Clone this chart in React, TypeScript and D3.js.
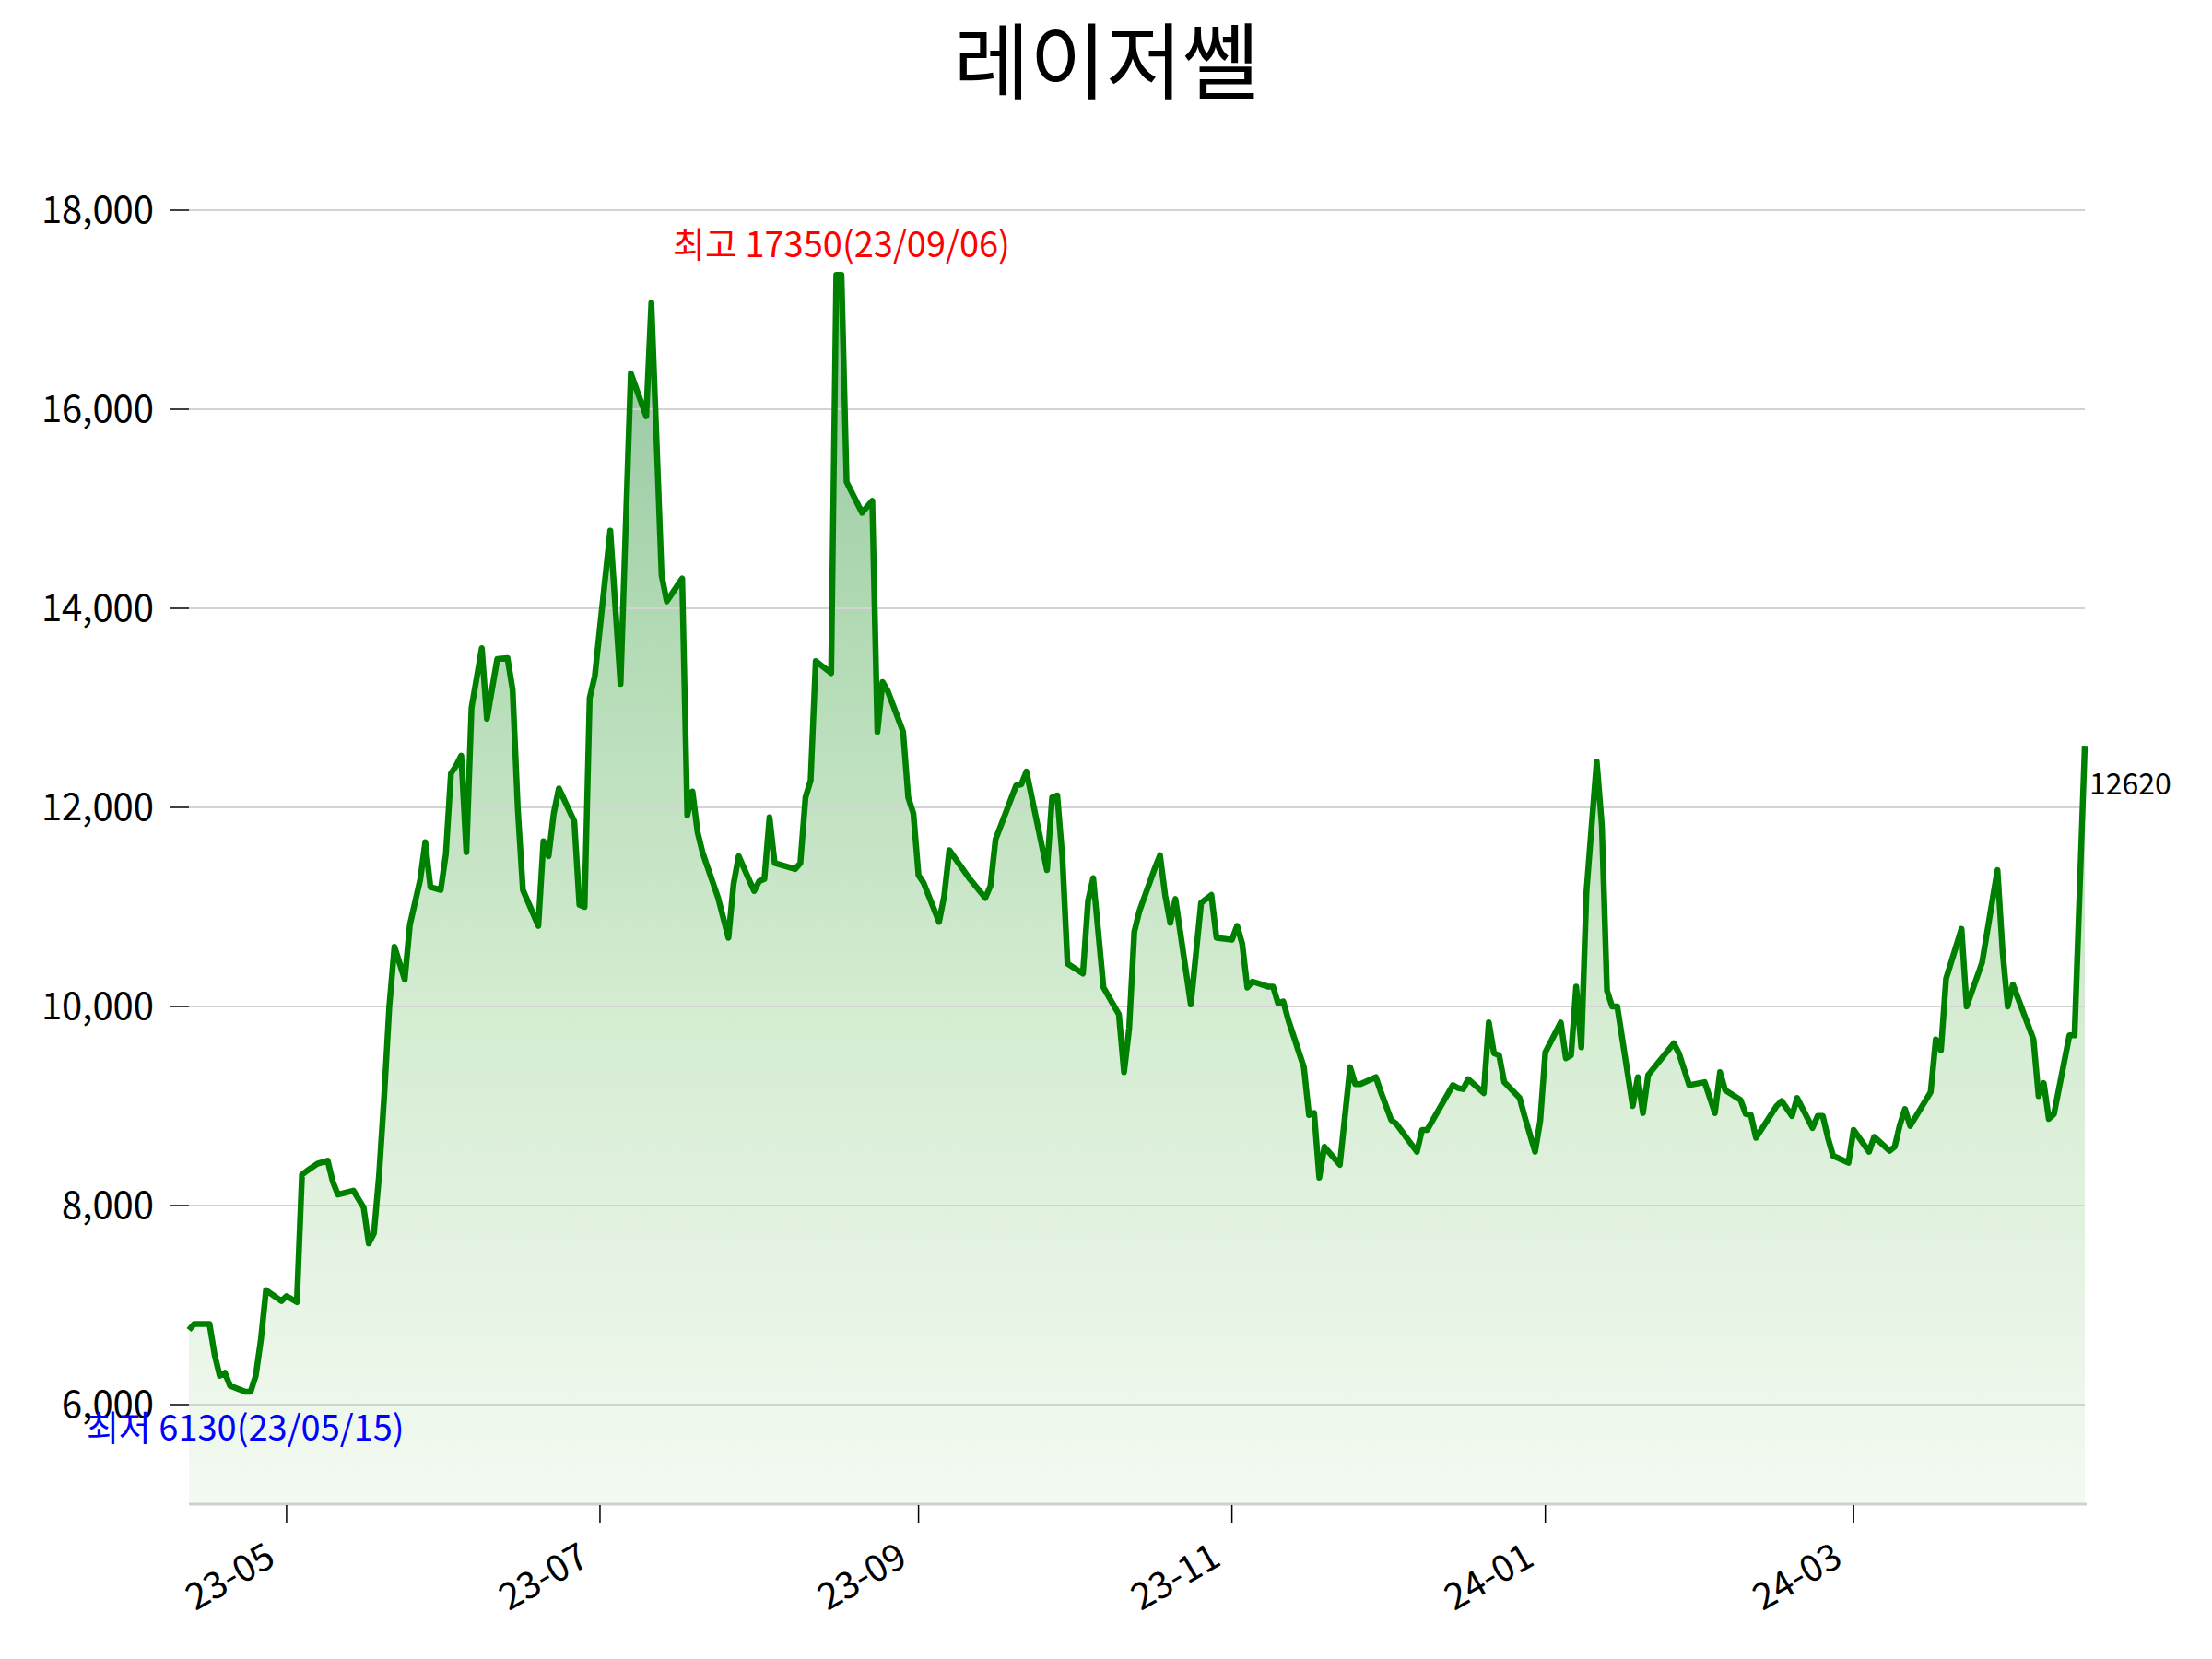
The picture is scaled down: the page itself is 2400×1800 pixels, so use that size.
import React from "react";
import * as d3 from "d3";

const TITLE = "레이저쎌";
const HIGH_LABEL = "최고 17350(23/09/06)";
const LOW_LABEL = "최저 6130(23/05/15)";

const dates: string[] = [
  "2023-04-12","2023-04-13","2023-04-16","2023-04-17","2023-04-18","2023-04-19","2023-04-20","2023-04-23","2023-04-24","2023-04-25","2023-04-26","2023-04-27","2023-04-30",
  "2023-05-01","2023-05-02","2023-05-03","2023-05-04","2023-05-05","2023-05-07","2023-05-09","2023-05-10","2023-05-11","2023-05-14","2023-05-16","2023-05-17","2023-05-18","2023-05-19","2023-05-20","2023-05-21","2023-05-22","2023-05-24","2023-05-25","2023-05-27","2023-05-28","2023-05-29","2023-05-31",
  "2023-06-01","2023-06-02","2023-06-03","2023-06-04","2023-06-05","2023-06-06","2023-06-08","2023-06-09","2023-06-11","2023-06-13","2023-06-14","2023-06-15","2023-06-16","2023-06-19","2023-06-20","2023-06-21","2023-06-22","2023-06-23","2023-06-26","2023-06-27","2023-06-28","2023-06-29","2023-06-30",
  "2023-07-03","2023-07-05","2023-07-07","2023-07-10","2023-07-11","2023-07-13","2023-07-14","2023-07-17","2023-07-18","2023-07-19","2023-07-20","2023-07-21","2023-07-24","2023-07-26","2023-07-27","2023-07-28","2023-07-31",
  "2023-08-01","2023-08-02","2023-08-03","2023-08-04","2023-08-08","2023-08-09","2023-08-10","2023-08-11","2023-08-12","2023-08-15","2023-08-16","2023-08-17","2023-08-18","2023-08-21","2023-08-23","2023-08-24","2023-08-25","2023-08-26","2023-08-29","2023-08-30","2023-08-31",
  "2023-09-01","2023-09-02","2023-09-05","2023-09-06","2023-09-07","2023-09-11","2023-09-14","2023-09-15","2023-09-16","2023-09-20","2023-09-21","2023-09-22","2023-09-26","2023-09-27","2023-09-28","2023-09-29","2023-09-30",
  "2023-10-03","2023-10-04","2023-10-05","2023-10-07","2023-10-10","2023-10-11","2023-10-12","2023-10-13","2023-10-14","2023-10-17","2023-10-18","2023-10-19","2023-10-20","2023-10-21","2023-10-24","2023-10-26","2023-10-28","2023-10-29",
  "2023-11-01","2023-11-02","2023-11-03","2023-11-04","2023-11-05","2023-11-08","2023-11-09","2023-11-10","2023-11-11","2023-11-12","2023-11-15","2023-11-16","2023-11-17","2023-11-18","2023-11-19","2023-11-22","2023-11-24","2023-11-25","2023-11-26","2023-11-29","2023-11-30",
  "2023-12-02","2023-12-03","2023-12-07","2023-12-08","2023-12-09","2023-12-14","2023-12-15","2023-12-16","2023-12-17","2023-12-20","2023-12-21","2023-12-22","2023-12-23","2023-12-24","2023-12-27","2023-12-28","2023-12-30","2023-12-31",
  "2024-01-01","2024-01-04","2024-01-05","2024-01-06","2024-01-07","2024-01-08","2024-01-09","2024-01-11","2024-01-12","2024-01-13","2024-01-14","2024-01-15","2024-01-18","2024-01-19","2024-01-20","2024-01-21","2024-01-26","2024-01-27","2024-01-29",
  "2024-02-01","2024-02-03","2024-02-04","2024-02-05","2024-02-08","2024-02-09","2024-02-10","2024-02-11","2024-02-15","2024-02-16","2024-02-18","2024-02-19","2024-02-22","2024-02-23","2024-02-24","2024-02-25","2024-02-26","2024-02-29",
  "2024-03-01","2024-03-04","2024-03-05","2024-03-08","2024-03-09","2024-03-10","2024-03-11","2024-03-12","2024-03-16","2024-03-17","2024-03-18","2024-03-19","2024-03-22","2024-03-23","2024-03-26","2024-03-29","2024-03-30","2024-03-31",
  "2024-04-01","2024-04-05","2024-04-06","2024-04-07","2024-04-08","2024-04-09","2024-04-12","2024-04-13","2024-04-15",
];

const prices: number[] = [
  6750,6810,6810,6500,6290,6320,6190,6130,6130,6290,6650,7150,7040,
  7090,7060,7030,8310,8350,8420,8450,8240,8110,8150,7980,7620,7720,8300,9100,10000,10600,10270,10820,11270,11650,11200,11170,
  11530,12340,12420,12520,11550,13000,13600,12890,13490,13500,13180,11990,11170,10810,11660,11510,11940,12190,11860,11020,11000,13100,13320,
  14780,13240,16360,15930,17070,14330,14070,14300,11920,12160,11750,11540,11090,10690,11230,11510,11160,
  11260,11280,11900,11440,11380,11440,12100,12270,13470,13350,17350,17350,15270,14960,15080,12760,13260,13170,12760,12100,11940,
  11320,11240,10850,11110,11570,11280,11090,11210,11680,12220,12230,12360,11370,12100,12120,11500,10430,
  10330,11060,11290,10190,9920,9340,9780,10750,10960,11390,11520,11120,10840,11080,10020,11040,11120,10690,
  10670,10810,10630,10190,10250,10200,10200,10030,10050,9860,9390,8910,8930,8280,8590,8410,9390,9220,9220,9290,9140,
  8860,8820,8540,8760,8760,9210,9180,9170,9270,9130,9840,9530,9510,9240,9080,8890,8540,8850,
  9540,9840,9480,9510,10200,9590,11150,12460,11820,10160,10000,10000,9000,9290,8930,9310,9630,9530,9210,
  9240,8930,9340,9160,9060,8920,8910,8680,9000,9050,8900,9080,8780,8900,8900,8680,8500,8430,
  8760,8540,8690,8550,8590,8810,8970,8800,9140,9670,9560,10280,10780,10000,10440,11370,10550,10000,
  10220,9670,9100,9230,8870,8920,9710,9710,12620,
];

const yTicks: number[] = [6000, 8000, 10000, 12000, 14000, 16000, 18000];
const xTickDates: string[] = ["2023-05-01", "2023-07-01", "2023-09-01", "2023-11-01", "2024-01-01", "2024-03-01"];
const xDomain: string[] = ["2023-04-12", "2024-04-15"];
const yDomain: number[] = [5000, 18000];

const W = 2400;
const H = 1800;
const LEFT = 205;
const RIGHT = 2262;
const TOP = 228;
const BOTTOM = 1632;
const FONT = "'Noto Sans CJK KR', 'Noto Sans', sans-serif";

export default function App() {
  const parse = d3.timeParse("%Y-%m-%d");
  const data = dates.map((d, i) => ({ date: parse(d) as Date, value: prices[i] }));
  const x = d3
    .scaleTime()
    .domain(xDomain.map((d) => parse(d) as Date))
    .range([LEFT, RIGHT]);
  const y = d3.scaleLinear().domain(yDomain).range([BOTTOM, TOP]);

  const line = d3
    .line<{ date: Date; value: number }>()
    .x((d) => x(d.date))
    .y((d) => y(d.value));
  const area = d3
    .area<{ date: Date; value: number }>()
    .x((d) => x(d.date))
    .y0(BOTTOM)
    .y1((d) => y(d.value));

  const maxV = d3.max(prices) as number;
  const minV = d3.min(prices) as number;
  let maxIdx = 0;
  prices.forEach((v, i) => {
    if (v === maxV) maxIdx = i;
  });
  const minIdx = prices.indexOf(minV);
  const last = data[data.length - 1];
  const fmtY = d3.format(",");
  const fmtX = d3.timeFormat("%y-%m");

  return (
    <svg
      width={W}
      height={H}
      viewBox={`0 0 ${W} ${H}`}
      style={{ position: "absolute", left: 0, top: 0, display: "block", background: "#fff" }}
      fontFamily={FONT}
    >
      <defs>
        <linearGradient id="fillGrad" gradientUnits="userSpaceOnUse" x1={0} x2={0} y1={y(maxV)} y2={BOTTOM}>
          <stop offset="0" stopColor="#92c59f" />
          <stop offset="0.3" stopColor="#b3dbb5" />
          <stop offset="0.6" stopColor="#d5ecd2" />
          <stop offset="1" stopColor="#f4faf2" />
        </linearGradient>
      </defs>
      <rect x={0} y={0} width={W} height={H} fill="#fff" />
      <text x={1200} y={100} textAnchor="middle" fontSize={90} fill="#000">
        {TITLE}
      </text>

      <path d={area(data) as string} fill="url(#fillGrad)" stroke="none" />

      {yTicks.map((t) => (
        <g key={t}>
          <line x1={LEFT} x2={RIGHT} y1={y(t)} y2={y(t)} stroke="#d3d3d3" strokeWidth={2} />
          <line x1={LEFT - 21} x2={LEFT} y1={y(t)} y2={y(t)} stroke="#000" strokeWidth={1.5} />
          <text x={LEFT - 38} y={y(t)} dy="0.36em" textAnchor="end" fontSize={40} fill="#000">
            {fmtY(t)}
          </text>
        </g>
      ))}

      <line x1={LEFT} x2={RIGHT + 2} y1={BOTTOM} y2={BOTTOM} stroke="#d0d0d0" strokeWidth={3} />
      {xTickDates.map((s) => {
        const d = parse(s) as Date;
        const tx = x(d);
        return (
          <g key={s}>
            <line x1={tx} x2={tx} y1={BOTTOM + 1} y2={BOTTOM + 20} stroke="#000" strokeWidth={1.5} />
            <text
              transform={`translate(${tx - 10},${1697}) rotate(-30)`}
              textAnchor="end"
              fontSize={40}
              fill="#000"
            >
              {fmtX(d)}
            </text>
          </g>
        );
      })}

      <path
        d={line(data) as string}
        fill="none"
        stroke="#008000"
        strokeWidth={6.5}
        strokeLinejoin="round"
        strokeLinecap="butt"
      />

      <text x={x(data[maxIdx].date)} y={279} textAnchor="middle" fontSize={38} fill="#ff0000">
        {HIGH_LABEL}
      </text>
      <text x={x(data[minIdx].date)} y={1563} textAnchor="middle" fontSize={38} fill="#0000ff">
        {LOW_LABEL}
      </text>
      <text x={x(last.date) + 5} y={y(last.value) + 53} textAnchor="start" fontSize={32} fill="#000">
        {String(last.value)}
      </text>
    </svg>
  );
}
